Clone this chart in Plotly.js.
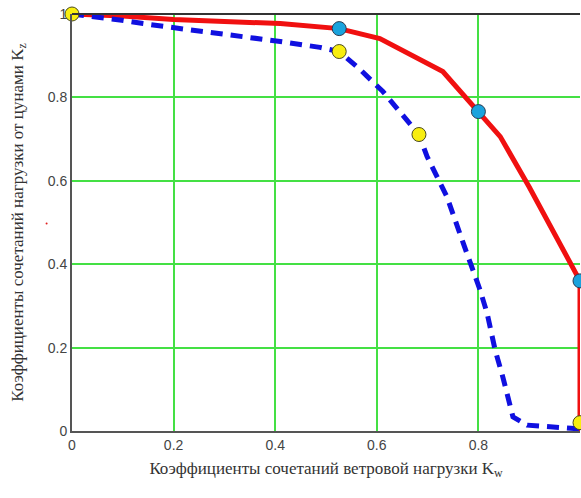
<!DOCTYPE html>
<html>
<head>
<meta charset="utf-8">
<script src="https://cdn.plot.ly/plotly-3.0.1.min.js"></script>
<style>html,body{margin:0;padding:0;background:#fff}#chart{width:581px;height:498px}</style>
</head>
<body>
<div id="chart"></div>
<script>
// Red solid curve (Kw, Kz)
const redX = [0, 0.1, 0.2, 0.3, 0.41, 0.526, 0.606, 0.73, 0.8, 0.843, 0.9, 0.955, 0.99, 1, 1];
const redY = [1, 0.995, 0.987, 0.982, 0.977, 0.965, 0.941, 0.862, 0.766, 0.706, 0.585, 0.459, 0.38, 0.36, 0];
// Blue dashed curve
const blueX = [0, 0.049, 0.098, 0.14, 0.18, 0.226, 0.41, 0.488, 0.526, 0.567, 0.612, 0.65, 0.683, 0.699, 0.738, 0.77, 0.789, 0.803, 0.817, 0.833, 0.848, 0.868, 0.896, 0.96, 1];
const blueY = [1, 0.994, 0.985, 0.977, 0.97, 0.963, 0.934, 0.92, 0.91, 0.867, 0.814, 0.759, 0.711, 0.658, 0.562, 0.451, 0.387, 0.339, 0.283, 0.194, 0.13, 0.034, 0.014, 0.007, 0.005];
// Highlighted points
const cyanX = [0.526, 0.8, 1];
const cyanY = [0.965, 0.766, 0.36];
const yellowX = [0, 0.526, 0.683, 1];
const yellowY = [1, 0.91, 0.711, 0.02];
const tickVals = [0, 0.2, 0.4, 0.6, 0.8, 1];
const tickText = ['0', '0.2', '0.4', '0.6', '0.8', '1'];

const traces = [
  {x: redX, y: redY, mode: 'lines', line: {color: '#F01010', width: 5}, cliponaxis: false, hoverinfo: 'none'},
  {x: blueX, y: blueY, mode: 'lines', line: {color: '#1010E0', width: 5, dash: '12px,8px'}, cliponaxis: false, hoverinfo: 'none'},
  {x: cyanX, y: cyanY, mode: 'markers', marker: {color: '#1AA3DD', size: 14, line: {color: '#2a3a50', width: 1}}, cliponaxis: false},
  {x: yellowX, y: yellowY, mode: 'markers', marker: {color: '#F8EE10', size: 14, line: {color: '#4a4a20', width: 1}}, cliponaxis: false}
];

const layout = {
  width: 581, height: 498,
  margin: {l: 72, r: 1, t: 14, b: 67},
  paper_bgcolor: '#fff', plot_bgcolor: '#fff',
  showlegend: false,
  xaxis: {
    range: [0, 1], tickvals: tickVals, ticktext: tickText,
    showgrid: true, gridcolor: '#44E044', gridwidth: 2,
    zeroline: false, showline: true, linecolor: '#555', linewidth: 2, mirror: false,
    ticks: '', tickfont: {family: 'Liberation Sans, Arial, sans-serif', size: 14, color: '#444'},
    title: {text: 'Коэффициенты сочетаний ветровой нагрузки K<sub>w</sub>', standoff: 10,
      font: {family: 'Liberation Serif, Times New Roman, serif', size: 17, color: '#333'}}
  },
  yaxis: {
    range: [0, 1], tickvals: tickVals, ticktext: tickText,
    showgrid: true, gridcolor: '#44E044', gridwidth: 2,
    zeroline: false, showline: true, linecolor: '#555', linewidth: 2,
    ticks: '', tickfont: {family: 'Liberation Sans, Arial, sans-serif', size: 14, color: '#444'},
    title: {text: 'Коэффициенты сочетаний нагрузки от цунами K<sub>z</sub>', standoff: 20,
      font: {family: 'Liberation Serif, Times New Roman, serif', size: 17, color: '#333'}}
  },
  shapes: [
    {type: 'line', xref: 'paper', yref: 'paper', x0: 0, x1: 1, y0: 1, y1: 1, line: {color: '#333', width: 2}},
    {type: 'circle', xref: 'paper', yref: 'paper', x0: -0.052, x1: -0.048, y0: 0.495, y1: 0.5, fillcolor: '#E02020', line: {width: 0}}
  ]
};

Plotly.newPlot('chart', traces, layout, {displayModeBar: false, staticPlot: true});
</script>
</body>
</html>
